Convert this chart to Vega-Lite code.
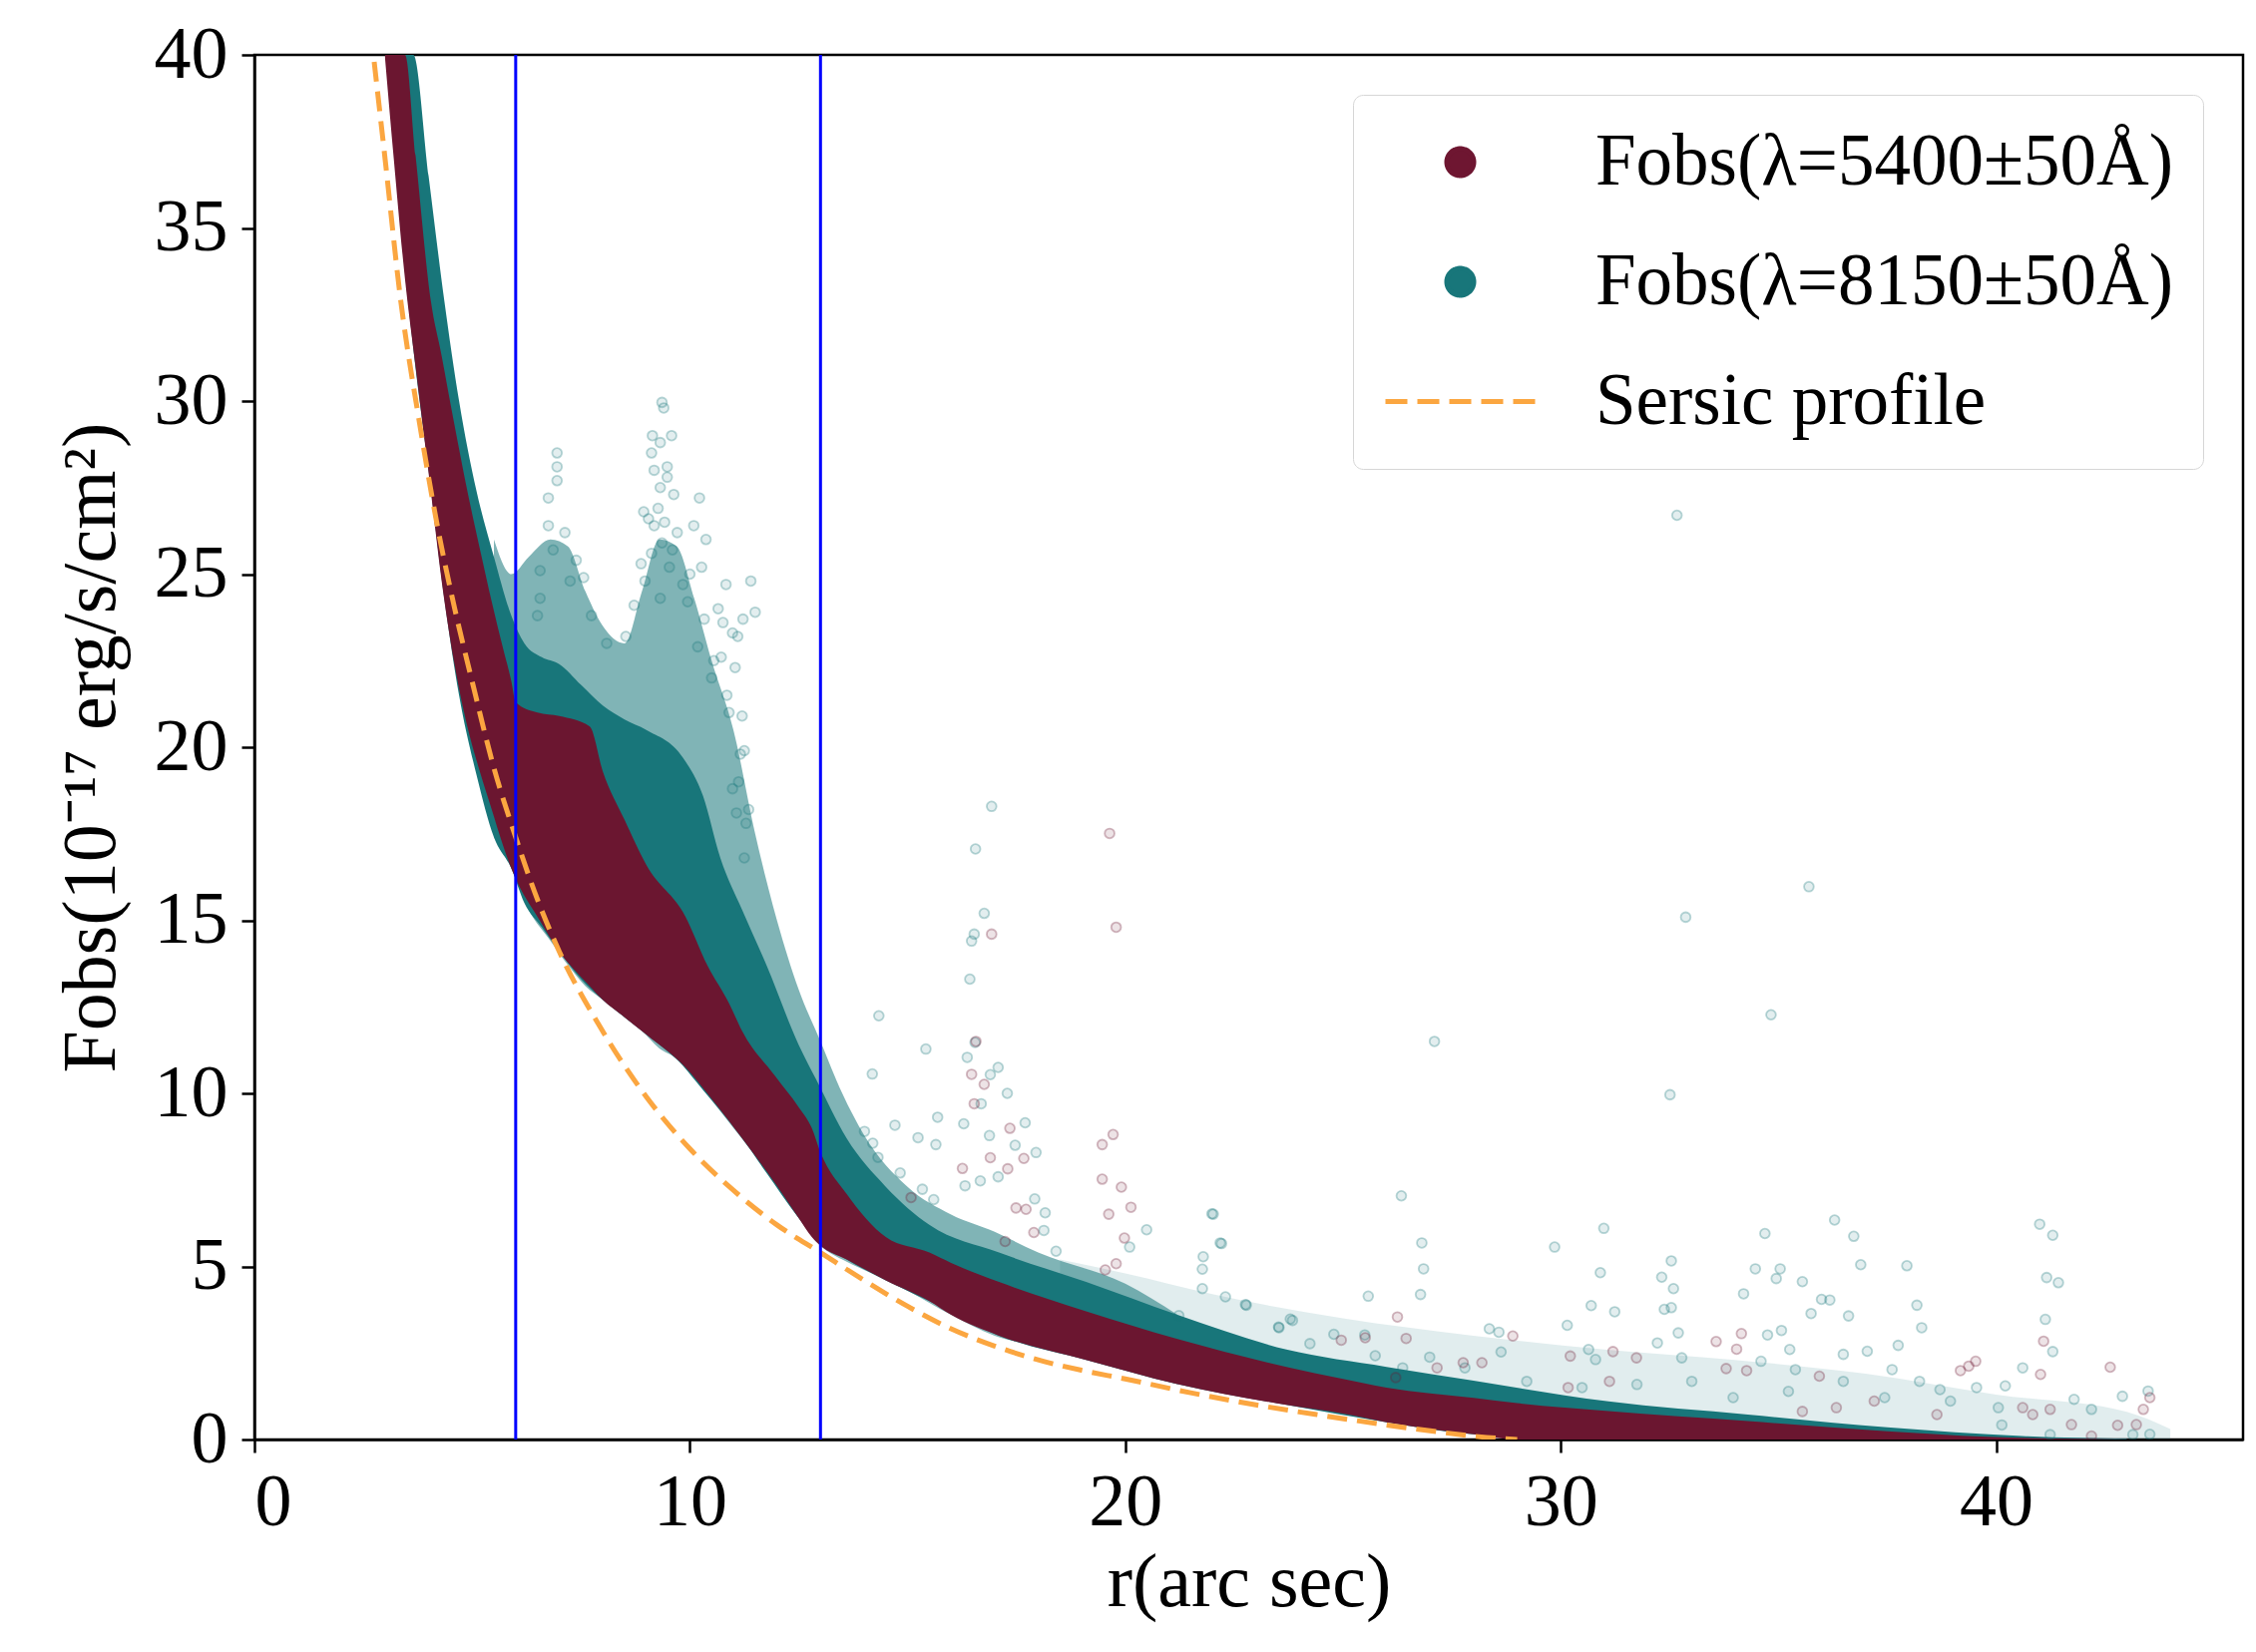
{
  "$schema": "https://vega.github.io/schema/vega-lite/v6.json",
  "width": 1993,
  "height": 1388,
  "autosize": {"type": "none"},
  "padding": {"left": 255, "top": 55, "right": 13, "bottom": 213},
  "background": "white",
  "config": {
    "view": {"stroke": "black", "strokeWidth": 2.5},
    "font": "Liberation Serif",
    "axis": {
      "labelFont": "Liberation Serif", "labelFontSize": 74, "labelColor": "black",
      "titleFont": "Liberation Serif", "titleFontSize": 76, "titleFontWeight": "normal", "titleColor": "black",
      "tickColor": "black", "tickWidth": 2.5, "tickSize": 13, "domainColor": "black", "domainWidth": 2.5,
      "grid": false, "labelPadding": 14
    },
    "legend": {
      "labelFont": "Liberation Serif", "labelFontSize": 73, "labelColor": "black", "labelLimit": 1000
    }
  },
  "datasets": {
    "maroonBand": [
      {"r":3.0,"lo":39.9,"hi":40},{"r":3.2,"lo":37.0,"hi":40},{"r":3.46,"lo":33.5,"hi":40},{"r":3.7,"lo":31.0,"hi":37.1},
      {"r":4.05,"lo":27.4,"hi":32.9},{"r":4.3,"lo":24.8,"hi":31.3},{"r":4.58,"lo":22.5,"hi":29.4},{"r":4.89,"lo":20.6,"hi":27.4},
      {"r":5.2,"lo":19.2,"hi":25.6},{"r":5.45,"lo":18.2,"hi":24.2},{"r":5.7,"lo":17.2,"hi":22.9},{"r":5.9,"lo":16.5,"hi":21.9},
      {"r":6.0,"lo":16.2,"hi":21.3},{"r":6.5,"lo":15.1,"hi":21.0},{"r":7.0,"lo":14.1,"hi":20.9},{"r":7.7,"lo":13.1,"hi":20.6},
      {"r":8.0,"lo":12.7,"hi":19.3},{"r":8.5,"lo":12.2,"hi":17.9},{"r":9.0,"lo":11.7,"hi":16.6},{"r":9.9,"lo":10.75,"hi":15.1},
      {"r":10.4,"lo":10.0,"hi":13.7},{"r":10.9,"lo":9.2,"hi":12.6},{"r":11.2,"lo":8.7,"hi":11.8},{"r":11.96,"lo":7.4,"hi":10.5},
      {"r":12.5,"lo":6.4,"hi":9.6},{"r":12.8,"lo":5.85,"hi":9.0},{"r":13.0,"lo":5.6,"hi":8.3},{"r":13.6,"lo":5.2,"hi":7.1},
      {"r":14.5,"lo":4.6,"hi":5.85},{"r":15.5,"lo":4.0,"hi":5.4},{"r":16.0,"lo":3.6,"hi":5.1},{"r":17.1,"lo":3.0,"hi":4.55},
      {"r":19.1,"lo":2.3,"hi":3.7},{"r":21.2,"lo":1.6,"hi":2.9},{"r":23.7,"lo":1.0,"hi":2.1},{"r":25.0,"lo":0.75,"hi":1.75},
      {"r":26.0,"lo":0.5,"hi":1.5},{"r":28.0,"lo":0.15,"hi":1.2},{"r":29.0,"lo":0.0,"hi":1.05},{"r":31.1,"lo":0,"hi":0.82},
      {"r":34.3,"lo":0,"hi":0.53},{"r":37.5,"lo":0,"hi":0.24},{"r":39.8,"lo":0,"hi":0.08},{"r":42.0,"lo":0,"hi":0.02},{"r":43.5,"lo":0,"hi":0.0}
    ],
    "tealBand": [
      {"r":3.1,"lo":39.9,"hi":40},{"r":3.3,"lo":36.0,"hi":40},{"r":3.65,"lo":31.5,"hi":40},{"r":4.0,"lo":28.0,"hi":36.5},
      {"r":4.36,"lo":24.3,"hi":32.9},{"r":4.7,"lo":21.5,"hi":30.0},{"r":5.1,"lo":19.2,"hi":27.4},{"r":5.5,"lo":17.4,"hi":25.5},
      {"r":5.9,"lo":16.5,"hi":23.8},{"r":6.2,"lo":15.5,"hi":23.0},{"r":6.6,"lo":14.8,"hi":22.6},{"r":7.0,"lo":14.1,"hi":22.4},
      {"r":7.5,"lo":13.3,"hi":21.8},{"r":8.0,"lo":12.7,"hi":21.2},{"r":8.5,"lo":12.2,"hi":20.8},{"r":9.0,"lo":11.7,"hi":20.5},
      {"r":9.84,"lo":10.8,"hi":19.7},{"r":10.3,"lo":10.1,"hi":18.6},{"r":10.7,"lo":9.5,"hi":16.8},{"r":11.2,"lo":8.7,"hi":15.3},
      {"r":11.76,"lo":7.7,"hi":13.7},{"r":12.5,"lo":6.4,"hi":11.4},{"r":12.9,"lo":5.8,"hi":10.4},{"r":13.6,"lo":5.2,"hi":8.7},
      {"r":14.5,"lo":4.6,"hi":7.3},{"r":15.5,"lo":4.0,"hi":6.2},{"r":17.1,"lo":3.0,"hi":5.4},{"r":19.1,"lo":2.3,"hi":4.55},
      {"r":21.2,"lo":1.6,"hi":3.6},{"r":23.7,"lo":1.0,"hi":2.6},{"r":26.0,"lo":0.5,"hi":2.1},{"r":28.0,"lo":0.15,"hi":1.7},
      {"r":31.1,"lo":0,"hi":1.1},{"r":34.3,"lo":0,"hi":0.72},{"r":37.5,"lo":0,"hi":0.35},{"r":40.6,"lo":0,"hi":0.1},{"r":43.0,"lo":0,"hi":0.02}
    ],
    "tealHaze": [
      {"r":5.5,"lo":17.4,"hi":26.0},{"r":5.9,"lo":16.5,"hi":25.0},{"r":6.3,"lo":15.3,"hi":25.5},{"r":6.8,"lo":14.4,"hi":26.0},
      {"r":7.2,"lo":13.7,"hi":25.8},{"r":7.6,"lo":13.1,"hi":24.5},{"r":8.0,"lo":12.7,"hi":23.5},{"r":8.5,"lo":12.2,"hi":23.0},
      {"r":8.9,"lo":11.8,"hi":24.5},{"r":9.3,"lo":11.3,"hi":26.0},{"r":9.7,"lo":11.0,"hi":25.8},{"r":10.1,"lo":10.4,"hi":24.3},
      {"r":10.5,"lo":9.8,"hi":22.5},{"r":11.0,"lo":9.0,"hi":20.5},{"r":11.5,"lo":8.2,"hi":17.5},{"r":12.0,"lo":7.3,"hi":15.0},
      {"r":12.5,"lo":6.4,"hi":13.0},{"r":13.0,"lo":5.6,"hi":11.5},{"r":13.5,"lo":5.2,"hi":10.0},{"r":14.0,"lo":4.9,"hi":8.8},
      {"r":15.0,"lo":4.3,"hi":7.3},{"r":16.0,"lo":3.6,"hi":6.5},{"r":17.0,"lo":3.0,"hi":6.0},{"r":18.0,"lo":2.7,"hi":5.4},
      {"r":20.0,"lo":2.0,"hi":4.5},{"r":21.2,"lo":1.6,"hi":3.6}
    ],
    "tealTail": [
      {"r":18.5,"lo":2.5,"hi":5.2},{"r":20.0,"lo":2.0,"hi":4.8},{"r":22.0,"lo":1.4,"hi":4.2},{"r":25.0,"lo":0.75,"hi":3.5},
      {"r":28.0,"lo":0.15,"hi":3.0},{"r":31.0,"lo":0,"hi":2.6},{"r":34.0,"lo":0,"hi":2.3},{"r":37.0,"lo":0,"hi":1.9},
      {"r":40.0,"lo":0,"hi":1.3},{"r":43.0,"lo":0,"hi":0.8},{"r":44.0,"lo":0,"hi":0.3}
    ],
    "sersic": [
      {"r":2.75,"f":39.8},{"r":3.0,"f":37.0},{"r":3.35,"f":33.0},{"r":3.8,"f":29.3},{"r":4.2,"f":26.4},{"r":4.6,"f":24.0},
      {"r":5.0,"f":21.9},{"r":5.5,"f":19.4},{"r":6.0,"f":17.4},{"r":6.5,"f":15.6},{"r":7.0,"f":14.1},{"r":7.9,"f":12.0},
      {"r":9.0,"f":9.9},{"r":10.0,"f":8.4},{"r":11.0,"f":7.2},{"r":12.0,"f":6.2},{"r":13.0,"f":5.4},{"r":14.0,"f":4.6},
      {"r":15.0,"f":3.85},{"r":16.0,"f":3.2},{"r":17.0,"f":2.7},{"r":18.0,"f":2.3},{"r":19.0,"f":2.0},{"r":20.0,"f":1.75},
      {"r":21.5,"f":1.35},{"r":23.0,"f":1.0},{"r":24.5,"f":0.7},{"r":26.0,"f":0.42},{"r":27.0,"f":0.25},{"r":28.3,"f":0.06},{"r":29.0,"f":0.0}
    ],
    "rules": [{"r":6.0},{"r":13.0}],
    "points": [
      {"r":6.95,"f":28.5,"s":"Fobs(λ=8150±50Å)"},{"r":6.95,"f":28.1,"s":"Fobs(λ=8150±50Å)"},{"r":6.95,"f":27.7,"s":"Fobs(λ=8150±50Å)"},
      {"r":6.75,"f":27.2,"s":"Fobs(λ=8150±50Å)"},{"r":6.75,"f":26.4,"s":"Fobs(λ=8150±50Å)"},{"r":7.13,"f":26.2,"s":"Fobs(λ=8150±50Å)"},
      {"r":6.86,"f":25.7,"s":"Fobs(λ=8150±50Å)"},{"r":7.39,"f":25.4,"s":"Fobs(λ=8150±50Å)"},{"r":6.56,"f":25.1,"s":"Fobs(λ=8150±50Å)"},
      {"r":7.56,"f":24.9,"s":"Fobs(λ=8150±50Å)"},{"r":6.56,"f":24.3,"s":"Fobs(λ=8150±50Å)"},{"r":7.25,"f":24.8,"s":"Fobs(λ=8150±50Å)"},
      {"r":6.5,"f":23.8,"s":"Fobs(λ=8150±50Å)"},{"r":7.74,"f":23.8,"s":"Fobs(λ=8150±50Å)"},{"r":8.09,"f":23.0,"s":"Fobs(λ=8150±50Å)"},
      {"r":8.53,"f":23.2,"s":"Fobs(λ=8150±50Å)"},{"r":9.36,"f":29.96,"s":"Fobs(λ=8150±50Å)"},{"r":9.4,"f":29.8,"s":"Fobs(λ=8150±50Å)"},
      {"r":9.14,"f":29.0,"s":"Fobs(λ=8150±50Å)"},{"r":9.58,"f":29.0,"s":"Fobs(λ=8150±50Å)"},{"r":9.32,"f":28.8,"s":"Fobs(λ=8150±50Å)"},
      {"r":9.12,"f":28.5,"s":"Fobs(λ=8150±50Å)"},{"r":9.48,"f":28.1,"s":"Fobs(λ=8150±50Å)"},{"r":9.18,"f":28.0,"s":"Fobs(λ=8150±50Å)"},
      {"r":9.48,"f":27.8,"s":"Fobs(λ=8150±50Å)"},{"r":9.32,"f":27.5,"s":"Fobs(λ=8150±50Å)"},{"r":9.63,"f":27.3,"s":"Fobs(λ=8150±50Å)"},
      {"r":10.22,"f":27.2,"s":"Fobs(λ=8150±50Å)"},{"r":9.27,"f":26.9,"s":"Fobs(λ=8150±50Å)"},{"r":8.94,"f":26.8,"s":"Fobs(λ=8150±50Å)"},
      {"r":9.05,"f":26.6,"s":"Fobs(λ=8150±50Å)"},{"r":9.42,"f":26.5,"s":"Fobs(λ=8150±50Å)"},{"r":9.18,"f":26.4,"s":"Fobs(λ=8150±50Å)"},
      {"r":10.09,"f":26.4,"s":"Fobs(λ=8150±50Å)"},{"r":9.71,"f":26.2,"s":"Fobs(λ=8150±50Å)"},{"r":10.37,"f":26.0,"s":"Fobs(λ=8150±50Å)"},
      {"r":9.36,"f":25.9,"s":"Fobs(λ=8150±50Å)"},{"r":9.6,"f":25.7,"s":"Fobs(λ=8150±50Å)"},{"r":9.12,"f":25.6,"s":"Fobs(λ=8150±50Å)"},
      {"r":8.88,"f":25.3,"s":"Fobs(λ=8150±50Å)"},{"r":10.27,"f":25.2,"s":"Fobs(λ=8150±50Å)"},{"r":9.53,"f":25.2,"s":"Fobs(λ=8150±50Å)"},
      {"r":10.0,"f":25.0,"s":"Fobs(λ=8150±50Å)"},{"r":8.97,"f":24.8,"s":"Fobs(λ=8150±50Å)"},{"r":9.84,"f":24.7,"s":"Fobs(λ=8150±50Å)"},
      {"r":9.32,"f":24.3,"s":"Fobs(λ=8150±50Å)"},{"r":9.95,"f":24.2,"s":"Fobs(λ=8150±50Å)"},{"r":10.83,"f":24.7,"s":"Fobs(λ=8150±50Å)"},
      {"r":8.72,"f":24.1,"s":"Fobs(λ=8150±50Å)"},{"r":10.65,"f":24.0,"s":"Fobs(λ=8150±50Å)"},{"r":11.22,"f":23.7,"s":"Fobs(λ=8150±50Å)"},
      {"r":10.76,"f":23.6,"s":"Fobs(λ=8150±50Å)"},{"r":10.33,"f":23.7,"s":"Fobs(λ=8150±50Å)"},{"r":10.98,"f":23.3,"s":"Fobs(λ=8150±50Å)"},
      {"r":11.1,"f":23.2,"s":"Fobs(λ=8150±50Å)"},{"r":10.18,"f":22.9,"s":"Fobs(λ=8150±50Å)"},{"r":10.72,"f":22.6,"s":"Fobs(λ=8150±50Å)"},
      {"r":10.55,"f":22.5,"s":"Fobs(λ=8150±50Å)"},{"r":11.04,"f":22.3,"s":"Fobs(λ=8150±50Å)"},{"r":10.5,"f":22.0,"s":"Fobs(λ=8150±50Å)"},
      {"r":10.85,"f":21.5,"s":"Fobs(λ=8150±50Å)"},{"r":10.9,"f":21.0,"s":"Fobs(λ=8150±50Å)"},{"r":11.2,"f":20.9,"s":"Fobs(λ=8150±50Å)"},
      {"r":11.25,"f":19.9,"s":"Fobs(λ=8150±50Å)"},{"r":11.16,"f":19.8,"s":"Fobs(λ=8150±50Å)"},{"r":11.12,"f":19.0,"s":"Fobs(λ=8150±50Å)"},
      {"r":10.98,"f":18.8,"s":"Fobs(λ=8150±50Å)"},{"r":11.35,"f":18.2,"s":"Fobs(λ=8150±50Å)"},{"r":11.29,"f":17.8,"s":"Fobs(λ=8150±50Å)"},
      {"r":11.25,"f":16.8,"s":"Fobs(λ=8150±50Å)"},{"r":11.07,"f":18.1,"s":"Fobs(λ=8150±50Å)"},{"r":11.4,"f":24.8,"s":"Fobs(λ=8150±50Å)"},
      {"r":11.5,"f":23.9,"s":"Fobs(λ=8150±50Å)"},
      {"r":16.56,"f":17.06,"s":"Fobs(λ=8150±50Å)"},{"r":16.93,"f":18.29,"s":"Fobs(λ=8150±50Å)"},{"r":16.76,"f":15.2,"s":"Fobs(λ=8150±50Å)"},
      {"r":16.53,"f":14.6,"s":"Fobs(λ=8150±50Å)"},{"r":16.47,"f":14.4,"s":"Fobs(λ=8150±50Å)"},{"r":16.43,"f":13.3,"s":"Fobs(λ=8150±50Å)"},
      {"r":14.34,"f":12.24,"s":"Fobs(λ=8150±50Å)"},{"r":15.42,"f":11.28,"s":"Fobs(λ=8150±50Å)"},{"r":14.19,"f":10.56,"s":"Fobs(λ=8150±50Å)"},
      {"r":16.37,"f":11.04,"s":"Fobs(λ=8150±50Å)"},{"r":16.55,"f":11.47,"s":"Fobs(λ=8150±50Å)"},{"r":17.08,"f":10.75,"s":"Fobs(λ=8150±50Å)"},
      {"r":16.9,"f":10.54,"s":"Fobs(λ=8150±50Å)"},{"r":17.29,"f":10.0,"s":"Fobs(λ=8150±50Å)"},{"r":16.69,"f":9.7,"s":"Fobs(λ=8150±50Å)"},
      {"r":15.69,"f":9.31,"s":"Fobs(λ=8150±50Å)"},{"r":17.7,"f":9.15,"s":"Fobs(λ=8150±50Å)"},{"r":14.71,"f":9.08,"s":"Fobs(λ=8150±50Å)"},
      {"r":15.24,"f":8.72,"s":"Fobs(λ=8150±50Å)"},{"r":15.65,"f":8.52,"s":"Fobs(λ=8150±50Å)"},{"r":14.01,"f":8.9,"s":"Fobs(λ=8150±50Å)"},
      {"r":14.2,"f":8.56,"s":"Fobs(λ=8150±50Å)"},{"r":14.32,"f":8.15,"s":"Fobs(λ=8150±50Å)"},{"r":14.83,"f":7.7,"s":"Fobs(λ=8150±50Å)"},
      {"r":16.29,"f":9.12,"s":"Fobs(λ=8150±50Å)"},{"r":16.88,"f":8.78,"s":"Fobs(λ=8150±50Å)"},{"r":17.47,"f":8.5,"s":"Fobs(λ=8150±50Å)"},
      {"r":17.95,"f":8.29,"s":"Fobs(λ=8150±50Å)"},{"r":16.32,"f":7.33,"s":"Fobs(λ=8150±50Å)"},{"r":16.67,"f":7.47,"s":"Fobs(λ=8150±50Å)"},
      {"r":17.08,"f":7.59,"s":"Fobs(λ=8150±50Å)"},{"r":15.34,"f":7.23,"s":"Fobs(λ=8150±50Å)"},{"r":15.6,"f":6.93,"s":"Fobs(λ=8150±50Å)"},
      {"r":17.92,"f":6.95,"s":"Fobs(λ=8150±50Å)"},{"r":18.16,"f":6.55,"s":"Fobs(λ=8150±50Å)"},{"r":18.13,"f":6.04,"s":"Fobs(λ=8150±50Å)"},
      {"r":18.41,"f":5.44,"s":"Fobs(λ=8150±50Å)"},{"r":20.49,"f":6.06,"s":"Fobs(λ=8150±50Å)"},{"r":20.1,"f":5.56,"s":"Fobs(λ=8150±50Å)"},
      {"r":21.99,"f":6.52,"s":"Fobs(λ=8150±50Å)"},{"r":22.18,"f":5.68,"s":"Fobs(λ=8150±50Å)"},{"r":21.79,"f":5.28,"s":"Fobs(λ=8150±50Å)"},
      {"r":21.77,"f":4.92,"s":"Fobs(λ=8150±50Å)"},{"r":21.77,"f":4.36,"s":"Fobs(λ=8150±50Å)"},{"r":22.3,"f":4.12,"s":"Fobs(λ=8150±50Å)"},
      {"r":22.76,"f":3.9,"s":"Fobs(λ=8150±50Å)"},{"r":21.23,"f":3.58,"s":"Fobs(λ=8150±50Å)"},{"r":23.52,"f":3.25,"s":"Fobs(λ=8150±50Å)"},
      {"r":23.79,"f":3.48,"s":"Fobs(λ=8150±50Å)"},
      {"r":32.51,"f":9.96,"s":"Fobs(λ=8150±50Å)"},{"r":26.34,"f":7.04,"s":"Fobs(λ=8150±50Å)"},{"r":22.02,"f":6.51,"s":"Fobs(λ=8150±50Å)"},
      {"r":22.21,"f":5.66,"s":"Fobs(λ=8150±50Å)"},{"r":26.81,"f":5.68,"s":"Fobs(λ=8150±50Å)"},{"r":26.85,"f":4.93,"s":"Fobs(λ=8150±50Å)"},
      {"r":26.78,"f":4.19,"s":"Fobs(λ=8150±50Å)"},{"r":25.58,"f":4.14,"s":"Fobs(λ=8150±50Å)"},{"r":22.78,"f":3.88,"s":"Fobs(λ=8150±50Å)"},
      {"r":23.84,"f":3.44,"s":"Fobs(λ=8150±50Å)"},{"r":30.99,"f":6.1,"s":"Fobs(λ=8150±50Å)"},{"r":29.86,"f":5.56,"s":"Fobs(λ=8150±50Å)"},
      {"r":36.29,"f":6.34,"s":"Fobs(λ=8150±50Å)"},{"r":36.73,"f":5.87,"s":"Fobs(λ=8150±50Å)"},{"r":36.89,"f":5.05,"s":"Fobs(λ=8150±50Å)"},
      {"r":37.95,"f":5.02,"s":"Fobs(λ=8150±50Å)"},{"r":34.69,"f":5.95,"s":"Fobs(λ=8150±50Å)"},{"r":41.0,"f":6.22,"s":"Fobs(λ=8150±50Å)"},
      {"r":41.3,"f":5.9,"s":"Fobs(λ=8150±50Å)"},{"r":41.16,"f":4.68,"s":"Fobs(λ=8150±50Å)"},{"r":41.43,"f":4.53,"s":"Fobs(λ=8150±50Å)"},
      {"r":41.13,"f":3.47,"s":"Fobs(λ=8150±50Å)"},{"r":41.3,"f":2.54,"s":"Fobs(λ=8150±50Å)"},{"r":30.91,"f":4.82,"s":"Fobs(λ=8150±50Å)"},
      {"r":32.54,"f":5.16,"s":"Fobs(λ=8150±50Å)"},{"r":32.32,"f":4.69,"s":"Fobs(λ=8150±50Å)"},{"r":32.59,"f":4.36,"s":"Fobs(λ=8150±50Å)"},
      {"r":30.7,"f":3.87,"s":"Fobs(λ=8150±50Å)"},{"r":31.24,"f":3.69,"s":"Fobs(λ=8150±50Å)"},{"r":30.15,"f":3.3,"s":"Fobs(λ=8150±50Å)"},
      {"r":34.47,"f":4.93,"s":"Fobs(λ=8150±50Å)"},{"r":35.04,"f":4.93,"s":"Fobs(λ=8150±50Å)"},{"r":34.95,"f":4.65,"s":"Fobs(λ=8150±50Å)"},
      {"r":35.55,"f":4.56,"s":"Fobs(λ=8150±50Å)"},{"r":34.2,"f":4.21,"s":"Fobs(λ=8150±50Å)"},{"r":35.99,"f":4.05,"s":"Fobs(λ=8150±50Å)"},
      {"r":36.18,"f":4.03,"s":"Fobs(λ=8150±50Å)"},{"r":35.75,"f":3.64,"s":"Fobs(λ=8150±50Å)"},{"r":36.61,"f":3.57,"s":"Fobs(λ=8150±50Å)"},
      {"r":38.18,"f":3.88,"s":"Fobs(λ=8150±50Å)"},{"r":38.29,"f":3.23,"s":"Fobs(λ=8150±50Å)"},{"r":37.75,"f":2.72,"s":"Fobs(λ=8150±50Å)"},
      {"r":37.61,"f":2.02,"s":"Fobs(λ=8150±50Å)"},{"r":35.07,"f":3.15,"s":"Fobs(λ=8150±50Å)"},{"r":34.75,"f":3.02,"s":"Fobs(λ=8150±50Å)"},
      {"r":35.26,"f":2.6,"s":"Fobs(λ=8150±50Å)"},{"r":35.39,"f":2.02,"s":"Fobs(λ=8150±50Å)"},{"r":34.6,"f":2.26,"s":"Fobs(λ=8150±50Å)"},
      {"r":36.49,"f":2.46,"s":"Fobs(λ=8150±50Å)"},{"r":37.04,"f":2.55,"s":"Fobs(λ=8150±50Å)"},{"r":32.7,"f":3.08,"s":"Fobs(λ=8150±50Å)"},
      {"r":32.78,"f":2.36,"s":"Fobs(λ=8150±50Å)"},{"r":32.38,"f":3.76,"s":"Fobs(λ=8150±50Å)"},{"r":32.54,"f":3.81,"s":"Fobs(λ=8150±50Å)"},
      {"r":28.36,"f":3.2,"s":"Fobs(λ=8150±50Å)"},{"r":28.58,"f":3.1,"s":"Fobs(λ=8150±50Å)"},{"r":28.63,"f":2.53,"s":"Fobs(λ=8150±50Å)"},
      {"r":30.64,"f":2.6,"s":"Fobs(λ=8150±50Å)"},{"r":30.8,"f":2.31,"s":"Fobs(λ=8150±50Å)"},{"r":32.22,"f":2.79,"s":"Fobs(λ=8150±50Å)"},
      {"r":24.79,"f":3.04,"s":"Fobs(λ=8150±50Å)"},{"r":25.5,"f":3.02,"s":"Fobs(λ=8150±50Å)"},{"r":24.24,"f":2.77,"s":"Fobs(λ=8150±50Å)"},
      {"r":23.53,"f":3.23,"s":"Fobs(λ=8150±50Å)"},{"r":25.74,"f":2.42,"s":"Fobs(λ=8150±50Å)"},{"r":26.99,"f":2.38,"s":"Fobs(λ=8150±50Å)"},
      {"r":39.55,"f":1.5,"s":"Fobs(λ=8150±50Å)"},{"r":40.05,"f":0.92,"s":"Fobs(λ=8150±50Å)"},{"r":40.61,"f":2.07,"s":"Fobs(λ=8150±50Å)"},
      {"r":42.9,"f":1.25,"s":"Fobs(λ=8150±50Å)"},{"r":43.49,"f":1.4,"s":"Fobs(λ=8150±50Å)"},{"r":43.53,"f":0.15,"s":"Fobs(λ=8150±50Å)"},
      {"r":38.24,"f":1.68,"s":"Fobs(λ=8150±50Å)"},{"r":38.71,"f":1.44,"s":"Fobs(λ=8150±50Å)"},{"r":37.44,"f":1.21,"s":"Fobs(λ=8150±50Å)"},
      {"r":38.95,"f":1.11,"s":"Fobs(λ=8150±50Å)"},{"r":40.21,"f":1.55,"s":"Fobs(λ=8150±50Å)"},{"r":41.79,"f":1.16,"s":"Fobs(λ=8150±50Å)"},
      {"r":42.19,"f":0.87,"s":"Fobs(λ=8150±50Å)"},{"r":36.49,"f":1.68,"s":"Fobs(λ=8150±50Å)"},{"r":35.23,"f":1.39,"s":"Fobs(λ=8150±50Å)"},
      {"r":33.96,"f":1.21,"s":"Fobs(λ=8150±50Å)"},{"r":33.01,"f":1.68,"s":"Fobs(λ=8150±50Å)"},{"r":31.75,"f":1.59,"s":"Fobs(λ=8150±50Å)"},
      {"r":30.49,"f":1.5,"s":"Fobs(λ=8150±50Å)"},{"r":29.22,"f":1.68,"s":"Fobs(λ=8150±50Å)"},{"r":27.8,"f":2.07,"s":"Fobs(λ=8150±50Å)"},
      {"r":26.37,"f":2.07,"s":"Fobs(λ=8150±50Å)"},{"r":40.13,"f":0.42,"s":"Fobs(λ=8150±50Å)"},{"r":41.24,"f":0.14,"s":"Fobs(λ=8150±50Å)"},
      {"r":43.14,"f":0.14,"s":"Fobs(λ=8150±50Å)"},{"r":32.67,"f":26.7,"s":"Fobs(λ=8150±50Å)"},{"r":35.7,"f":15.97,"s":"Fobs(λ=8150±50Å)"},
      {"r":34.83,"f":12.27,"s":"Fobs(λ=8150±50Å)"},{"r":32.87,"f":15.09,"s":"Fobs(λ=8150±50Å)"},{"r":27.1,"f":11.5,"s":"Fobs(λ=8150±50Å)"},
      {"r":19.64,"f":17.51,"s":"Fobs(λ=5400±50Å)"},{"r":19.79,"f":14.8,"s":"Fobs(λ=5400±50Å)"},{"r":16.93,"f":14.6,"s":"Fobs(λ=5400±50Å)"},
      {"r":16.57,"f":11.5,"s":"Fobs(λ=5400±50Å)"},{"r":16.47,"f":10.55,"s":"Fobs(λ=5400±50Å)"},{"r":16.76,"f":10.26,"s":"Fobs(λ=5400±50Å)"},
      {"r":16.53,"f":9.7,"s":"Fobs(λ=5400±50Å)"},{"r":17.35,"f":8.99,"s":"Fobs(λ=5400±50Å)"},{"r":19.47,"f":8.52,"s":"Fobs(λ=5400±50Å)"},
      {"r":19.72,"f":8.81,"s":"Fobs(λ=5400±50Å)"},{"r":16.9,"f":8.14,"s":"Fobs(λ=5400±50Å)"},{"r":17.67,"f":8.12,"s":"Fobs(λ=5400±50Å)"},
      {"r":17.3,"f":7.82,"s":"Fobs(λ=5400±50Å)"},{"r":16.26,"f":7.83,"s":"Fobs(λ=5400±50Å)"},{"r":19.47,"f":7.52,"s":"Fobs(λ=5400±50Å)"},
      {"r":19.91,"f":7.29,"s":"Fobs(λ=5400±50Å)"},{"r":20.13,"f":6.71,"s":"Fobs(λ=5400±50Å)"},{"r":19.62,"f":6.51,"s":"Fobs(λ=5400±50Å)"},
      {"r":19.98,"f":5.82,"s":"Fobs(λ=5400±50Å)"},{"r":19.79,"f":5.08,"s":"Fobs(λ=5400±50Å)"},{"r":19.54,"f":4.9,"s":"Fobs(λ=5400±50Å)"},
      {"r":17.49,"f":6.69,"s":"Fobs(λ=5400±50Å)"},{"r":17.72,"f":6.65,"s":"Fobs(λ=5400±50Å)"},{"r":17.9,"f":5.98,"s":"Fobs(λ=5400±50Å)"},
      {"r":17.24,"f":5.72,"s":"Fobs(λ=5400±50Å)"},{"r":15.08,"f":6.99,"s":"Fobs(λ=5400±50Å)"},
      {"r":26.25,"f":3.54,"s":"Fobs(λ=5400±50Å)"},{"r":26.45,"f":2.92,"s":"Fobs(λ=5400±50Å)"},{"r":24.96,"f":2.87,"s":"Fobs(λ=5400±50Å)"},
      {"r":25.51,"f":2.94,"s":"Fobs(λ=5400±50Å)"},{"r":28.9,"f":2.99,"s":"Fobs(λ=5400±50Å)"},{"r":27.76,"f":2.22,"s":"Fobs(λ=5400±50Å)"},
      {"r":28.19,"f":2.22,"s":"Fobs(λ=5400±50Å)"},{"r":30.22,"f":2.41,"s":"Fobs(λ=5400±50Å)"},{"r":31.2,"f":2.54,"s":"Fobs(λ=5400±50Å)"},
      {"r":31.74,"f":2.36,"s":"Fobs(λ=5400±50Å)"},{"r":34.15,"f":3.06,"s":"Fobs(λ=5400±50Å)"},{"r":33.57,"f":2.83,"s":"Fobs(λ=5400±50Å)"},
      {"r":34.04,"f":2.61,"s":"Fobs(λ=5400±50Å)"},{"r":33.8,"f":2.05,"s":"Fobs(λ=5400±50Å)"},{"r":34.27,"f":1.99,"s":"Fobs(λ=5400±50Å)"},
      {"r":35.94,"f":1.83,"s":"Fobs(λ=5400±50Å)"},{"r":39.18,"f":1.99,"s":"Fobs(λ=5400±50Å)"},{"r":39.37,"f":2.12,"s":"Fobs(λ=5400±50Å)"},
      {"r":39.53,"f":2.26,"s":"Fobs(λ=5400±50Å)"},{"r":41.09,"f":2.84,"s":"Fobs(λ=5400±50Å)"},{"r":41.02,"f":1.88,"s":"Fobs(λ=5400±50Å)"},
      {"r":42.62,"f":2.09,"s":"Fobs(λ=5400±50Å)"},{"r":42.79,"f":0.41,"s":"Fobs(λ=5400±50Å)"},{"r":43.53,"f":1.21,"s":"Fobs(λ=5400±50Å)"},
      {"r":43.38,"f":0.87,"s":"Fobs(λ=5400±50Å)"},{"r":43.22,"f":0.43,"s":"Fobs(λ=5400±50Å)"},{"r":40.84,"f":0.72,"s":"Fobs(λ=5400±50Å)"},
      {"r":41.24,"f":0.87,"s":"Fobs(λ=5400±50Å)"},{"r":41.73,"f":0.43,"s":"Fobs(λ=5400±50Å)"},{"r":40.61,"f":0.92,"s":"Fobs(λ=5400±50Å)"},
      {"r":36.33,"f":0.92,"s":"Fobs(λ=5400±50Å)"},{"r":35.55,"f":0.81,"s":"Fobs(λ=5400±50Å)"},{"r":31.12,"f":1.68,"s":"Fobs(λ=5400±50Å)"},
      {"r":30.17,"f":1.5,"s":"Fobs(λ=5400±50Å)"},{"r":27.16,"f":2.07,"s":"Fobs(λ=5400±50Å)"},{"r":26.21,"f":1.79,"s":"Fobs(λ=5400±50Å)"},
      {"r":38.64,"f":0.72,"s":"Fobs(λ=5400±50Å)"},{"r":37.2,"f":1.11,"s":"Fobs(λ=5400±50Å)"},{"r":42.19,"f":0.1,"s":"Fobs(λ=5400±50Å)"}
    ]
  },
  "layer": [
    {
      "data": {"name": "tealTail"},
      "mark": {"type": "area", "color": "#18767a", "opacity": 0.13, "clip": true, "interpolate": "monotone"},
      "encoding": {
        "x": {"field": "r", "type": "quantitative", "scale": {"domain": [0, 45.67], "nice": false},
              "axis": {"values": [0, 10, 20, 30, 40], "title": "r(arc sec)", "titlePadding": 6}},
        "y": {"field": "lo", "type": "quantitative", "scale": {"domain": [0, 40], "nice": false},
              "axis": {"values": [0, 5, 10, 15, 20, 25, 30, 35, 40], "title": "Fobs(10⁻¹⁷ erg/s/cm²)", "titlePadding": 24}},
        "y2": {"field": "hi"}
      }
    },
    {
      "data": {"name": "tealHaze"},
      "mark": {"type": "area", "color": "#18767a", "opacity": 0.55, "clip": true, "interpolate": "monotone"},
      "encoding": {
        "x": {"field": "r", "type": "quantitative"},
        "y": {"field": "lo", "type": "quantitative"},
        "y2": {"field": "hi"}
      }
    },
    {
      "data": {"name": "tealBand"},
      "mark": {"type": "area", "color": "#18767a", "opacity": 1, "clip": true, "interpolate": "monotone"},
      "encoding": {
        "x": {"field": "r", "type": "quantitative"},
        "y": {"field": "lo", "type": "quantitative"},
        "y2": {"field": "hi"}
      }
    },
    {
      "data": {"name": "maroonBand"},
      "mark": {"type": "area", "color": "#6b1630", "opacity": 1, "clip": true, "interpolate": "monotone"},
      "encoding": {
        "x": {"field": "r", "type": "quantitative"},
        "y": {"field": "lo", "type": "quantitative"},
        "y2": {"field": "hi"}
      }
    },
    {
      "data": {"name": "points"},
      "mark": {"type": "point", "filled": true, "size": 95, "fillOpacity": 0.12, "strokeWidth": 1.8, "strokeOpacity": 0.3, "clip": true},
      "encoding": {
        "x": {"field": "r", "type": "quantitative"},
        "y": {"field": "f", "type": "quantitative"},
        "color": {
          "field": "s", "type": "nominal",
          "scale": {"domain": ["Fobs(λ=5400±50Å)", "Fobs(λ=8150±50Å)", "Sersic profile"], "range": ["#6e1631", "#18767a", "#fba640"]},
          "legend": {
            "title": null, "orient": "top-right", "offset": 40, "padding": 30, "cornerRadius": 10,
            "strokeColor": "#d6d6d6", "fillColor": "white", "symbolStrokeWidth": 5,
            "labelOffset": 58, "rowPadding": 45, "clipHeight": 75, "labelFontSize": 73, "labelFont": "Liberation Serif", "labelLimit": 1000,
            "encode": {
              "symbols": {
                "update": {
                  "shape": {"signal": "datum.index === 2 ? 'M-1,0L1,0' : 'M-0.18,0A0.18,0.18,0,1,1,0.18,0A0.18,0.18,0,1,1,-0.18,0Z'"},
                  "size": {"value": 22500},
                  "fill": {"signal": "datum.index === 2 ? 'transparent' : (datum.index === 0 ? '#6e1631' : '#18767a')"},
                  "stroke": {"signal": "datum.index === 2 ? '#fba640' : 'transparent'"},
                  "strokeDash": {"signal": "datum.index === 2 ? [22, 10] : [1, 0]"},
                  "strokeWidth": {"value": 5},
                  "opacity": {"value": 1},
                  "fillOpacity": {"value": 1},
                  "strokeOpacity": {"value": 1}
                }
              }
            }
          }
        },
        "stroke": {
          "field": "s", "type": "nominal",
          "scale": {"domain": ["Fobs(λ=5400±50Å)", "Fobs(λ=8150±50Å)", "Sersic profile"], "range": ["#6e1631", "#18767a", "#fba640"]},
          "legend": null
        }
      }
    },
    {
      "data": {"name": "sersic"},
      "mark": {"type": "line", "color": "#fba640", "strokeWidth": 5, "strokeDash": [20, 10], "clip": true, "interpolate": "monotone"},
      "encoding": {
        "x": {"field": "r", "type": "quantitative"},
        "y": {"field": "f", "type": "quantitative"}
      }
    },
    {
      "data": {"name": "rules"},
      "mark": {"type": "rule", "color": "#0000ff", "strokeWidth": 3},
      "encoding": {
        "x": {"field": "r", "type": "quantitative"}
      }
    }
  ]
}
